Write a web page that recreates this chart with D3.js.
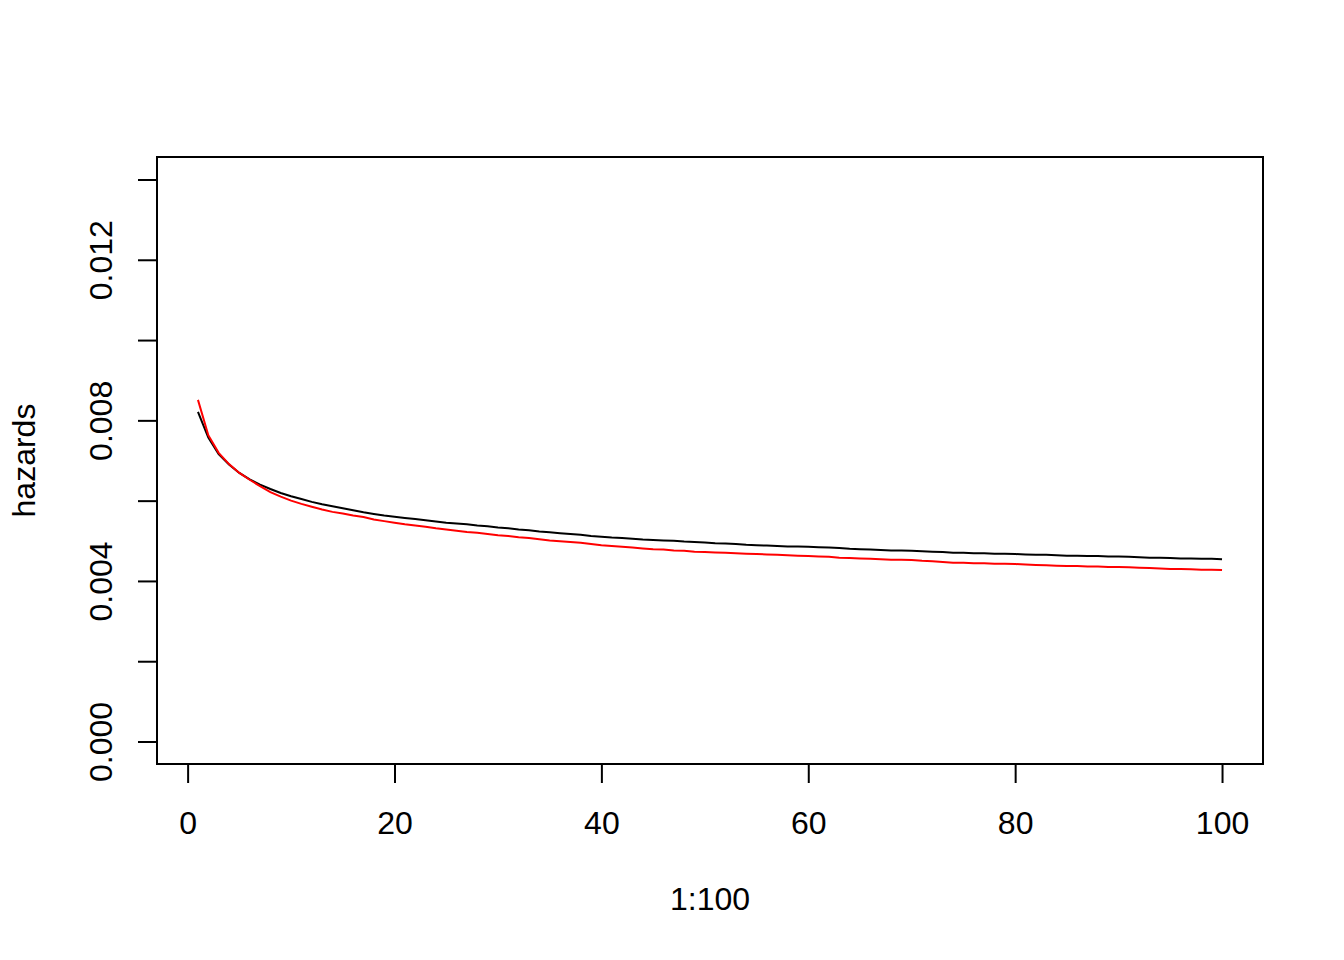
<!DOCTYPE html>
<html>
<head>
<meta charset="utf-8">
<script src="https://cdn.jsdelivr.net/npm/d3@7"></script>
<style>
  html, body { margin: 0; padding: 0; background: #ffffff; }
  svg { display: block; }
  text { font-family: "Liberation Sans", Arial, sans-serif; }
</style>
</head>
<body>
<svg id="chart" width="1344" height="960"></svg>
<script>
// ---- data ----
const xIndex = d3.range(1, 101); // 1:100

const hazardsBlack = [
  0.00821, 0.00757, 0.00716, 0.00690, 0.00669, 0.00653, 0.00640, 0.00629, 0.00619, 0.00611,
  0.00604, 0.00597, 0.00591, 0.00586, 0.00581, 0.00576, 0.00571, 0.00567, 0.00563, 0.00560,
  0.00557, 0.00554, 0.00551, 0.00548, 0.00545, 0.00543, 0.00541, 0.00538, 0.00536, 0.00533,
  0.00531, 0.00528, 0.00526, 0.00523, 0.00521, 0.00519, 0.00517, 0.00515, 0.00512, 0.00510,
  0.00508, 0.00507, 0.00505, 0.00503, 0.00502, 0.00501, 0.00500, 0.00498, 0.00497, 0.00496,
  0.00494, 0.00493, 0.00492, 0.00490, 0.00489, 0.00488, 0.00487, 0.00486, 0.00486, 0.00485,
  0.00484, 0.00483, 0.00482, 0.00480, 0.00479, 0.00478, 0.00477, 0.00476, 0.00476, 0.00475,
  0.00474, 0.00473, 0.00472, 0.00470, 0.00470, 0.00469, 0.00469, 0.00468, 0.00468, 0.00467,
  0.00466, 0.00465, 0.00465, 0.00464, 0.00463, 0.00463, 0.00462, 0.00462, 0.00461, 0.00461,
  0.00460, 0.00459, 0.00458, 0.00458, 0.00457, 0.00456, 0.00456, 0.00455, 0.00455, 0.00454
];

const hazardsRed = [
  0.00851, 0.00763, 0.00719, 0.00691, 0.00669, 0.00652, 0.00636, 0.00621, 0.00610, 0.00600,
  0.00592, 0.00585, 0.00578, 0.00572, 0.00568, 0.00563, 0.00559, 0.00553, 0.00549, 0.00545,
  0.00541, 0.00538, 0.00535, 0.00531, 0.00528, 0.00525, 0.00522, 0.00520, 0.00517, 0.00514,
  0.00512, 0.00509, 0.00507, 0.00504, 0.00501, 0.00499, 0.00497, 0.00495, 0.00492, 0.00489,
  0.00487, 0.00485, 0.00483, 0.00481, 0.00479, 0.00478, 0.00476, 0.00475, 0.00473, 0.00472,
  0.00471, 0.00470, 0.00469, 0.00468, 0.00467, 0.00466, 0.00465, 0.00464, 0.00463, 0.00462,
  0.00461, 0.00460, 0.00458, 0.00457, 0.00456, 0.00455, 0.00454, 0.00453, 0.00453, 0.00452,
  0.00450, 0.00449, 0.00447, 0.00445, 0.00445, 0.00444, 0.00444, 0.00443, 0.00443, 0.00442,
  0.00441, 0.00440, 0.00439, 0.00438, 0.00437, 0.00437, 0.00436, 0.00436, 0.00435, 0.00435,
  0.00434, 0.00433, 0.00432, 0.00431, 0.00430, 0.00430, 0.00429, 0.00428, 0.00428, 0.00427
];

const xTicks = [0, 20, 40, 60, 80, 100];
const yTicks = [0, 0.002, 0.004, 0.006, 0.008, 0.010, 0.012, 0.014];
const yTickLabels = { "0": "0.000", "0.004": "0.004", "0.008": "0.008", "0.012": "0.012" };
const xTitle = "1:100";
const yTitle = "hazards";

// ---- layout ----
const svg = d3.select("#chart");
const plotLeft = 157, plotRight = 1263, plotTop = 157, plotBottom = 764;

// R-style 4% extension of data ranges
const xlim = [1, 100], ylim = [0, 0.014];
const xPad = (xlim[1] - xlim[0]) * 0.04, yPad = (ylim[1] - ylim[0]) * 0.04;
const x = d3.scaleLinear().domain([xlim[0] - xPad, xlim[1] + xPad]).range([plotLeft, plotRight]);
const y = d3.scaleLinear().domain([ylim[0] - yPad, ylim[1] + yPad]).range([plotBottom, plotTop]);

const fontSize = 32;

// curves
const line = d3.line().x((d, i) => x(xIndex[i])).y(d => y(d));
svg.append("path").datum(hazardsBlack)
  .attr("d", line).attr("fill", "none").attr("stroke", "#000000").attr("stroke-width", 2);
svg.append("path").datum(hazardsRed)
  .attr("d", line).attr("fill", "none").attr("stroke", "#ff0000").attr("stroke-width", 2);

// box
svg.append("rect")
  .attr("x", plotLeft).attr("y", plotTop)
  .attr("width", plotRight - plotLeft).attr("height", plotBottom - plotTop)
  .attr("fill", "none").attr("stroke", "#000").attr("stroke-width", 2);

// x axis
const gx = svg.append("g").attr("transform", `translate(0,${plotBottom})`)
  .call(d3.axisBottom(x).tickValues(xTicks).tickSize(19).tickFormat(d3.format("d")));
gx.select(".domain").remove();
gx.append("line")
  .attr("x1", x(xTicks[0])).attr("x2", x(xTicks[xTicks.length - 1]))
  .attr("y1", 0).attr("y2", 0).attr("stroke", "#000").attr("stroke-width", 2);
gx.selectAll(".tick line").attr("stroke", "#000").attr("stroke-width", 2);
gx.selectAll(".tick text")
  .attr("y", 70).attr("dy", null)
  .attr("font-size", fontSize).attr("font-family", '"Liberation Sans", Arial, sans-serif')
  .attr("fill", "#000");

// y axis
const gy = svg.append("g").attr("transform", `translate(${plotLeft},0)`)
  .call(d3.axisLeft(y).tickValues(yTicks).tickSize(19)
    .tickFormat(d => yTickLabels[String(+d.toFixed(3))] || ""));
gy.select(".domain").remove();
gy.append("line")
  .attr("x1", 0).attr("x2", 0)
  .attr("y1", y(yTicks[0])).attr("y2", y(yTicks[yTicks.length - 1]))
  .attr("stroke", "#000").attr("stroke-width", 2);
gy.selectAll(".tick line").attr("stroke", "#000").attr("stroke-width", 2);
gy.selectAll(".tick text")
  .attr("x", null).attr("dy", null)
  .attr("transform", "translate(-45,0) rotate(-90)")
  .attr("text-anchor", "middle")
  .attr("font-size", fontSize).attr("font-family", '"Liberation Sans", Arial, sans-serif')
  .attr("fill", "#000");

// axis titles
svg.append("text")
  .attr("x", (plotLeft + plotRight) / 2).attr("y", 910)
  .attr("text-anchor", "middle").attr("font-size", fontSize).attr("fill", "#000")
  .text(xTitle);
svg.append("text")
  .attr("transform", `translate(35,${(plotTop + plotBottom) / 2}) rotate(-90)`)
  .attr("text-anchor", "middle").attr("font-size", fontSize).attr("fill", "#000")
  .text(yTitle);
</script>
</body>
</html>
